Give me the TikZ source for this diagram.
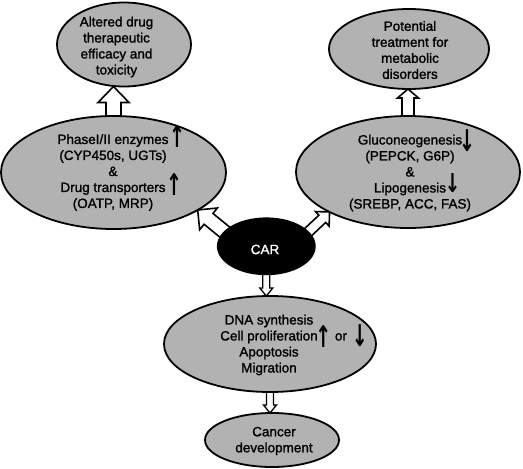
\documentclass[tikz,border=0pt]{standalone}
\usepackage{fontspec}
\usepackage{graphicx}
\setmainfont{Liberation Sans}[FakeBold=1.4]
\newfontfamily\arrowfont{DejaVu Sans}
\usetikzlibrary{shapes.geometric,calc,backgrounds}
\definecolor{ellgray}{gray}{0.7}
\newcommand{\upar}[1][-4pt]{\smash{\raisebox{#1}{\scalebox{0.95}[1.5]{\arrowfont\bfseries\fontsize{20}{20}\selectfont ↑}}}}
\newcommand{\downar}[1][-4pt]{\smash{\raisebox{#1}{\scalebox{0.95}[1.5]{\arrowfont\bfseries\fontsize{20}{20}\selectfont ↓}}}}
\newcommand{\downarsm}[1][0pt]{\smash{\raisebox{#1}{\scalebox{0.95}[1.3]{\arrowfont\bfseries\fontsize{20}{20}\selectfont ↓}}}}
% #2 start, #3 end, #4 half shaft, #5 half head, #6 head length
\newcommand{\hollowarrow}[6][]{%
  \coordinate (ha-h) at ($(#3)!#6!(#2)$);
  \draw[blockarrow,#1] ($(#2)!#4!90:(#3)$) -- ($(ha-h)!#4!-90:(#2)$) -- ($(ha-h)!#5!-90:(#2)$) -- (#3) -- ($(ha-h)!#5!90:(#2)$) -- ($(ha-h)!#4!90:(#2)$) -- ($(#2)!#4!-90:(#3)$) -- cycle;
}
\begin{document}
\begin{tikzpicture}[x=1pt,y=-1pt,
  ell/.style={ellipse, draw=black, line width=1.8pt, fill=ellgray, inner sep=0pt, outer sep=0pt},
  txt/.style={align=center, inner sep=0pt, font=\fontsize{13.5}{16}\selectfont},
  blockarrow/.style={draw=black, fill=white, line width=1.6pt, line join=miter}]
\useasboundingbox (0,0) rectangle (523,469);
\node[ell, minimum width=134pt, minimum height=84pt] (tl) at (124,44.5) {};
\node[ell, minimum width=160pt, minimum height=80pt] (tr) at (409,49) {};
\node[ell, minimum width=225pt, minimum height=113pt] (ml) at (113.5,172.5) {};
\node[ell, minimum width=224pt, minimum height=112pt] (mr) at (408,172) {};
\node[ell, fill=black, minimum width=97pt, minimum height=56pt] (car) at (266.3,246.3) {};
\node[ell, minimum width=212pt, minimum height=96pt] (bm) at (270,344) {};
\node[ell, minimum width=134pt, minimum height=54pt] (ca) at (272,440) {};

\node[txt] (tlt) at (116.5,47) {Altered drug\\therapeutic\\efficacy and\\toxicity};
\node[txt] (trt) at (410,50) {Potential\\treatment for\\metabolic\\disorders};
\node[txt] (mlt) at (113,172.5) {PhaseI/II enzymes\rlap{\kern0.5pt\upar}\\(CYP450s, UGTs)\\\&\\Drug transporters\rlap{\kern0.5pt\upar}\\(OATP, MRP)};
\node[txt] (mrt) at (410,173) {Gluconeogenesis\rlap{\kern-3pt\downar[-7.5pt]}\\(PEPCK, G6P)\\\&\\Lipogenesis\rlap{\kern-1.5pt\downarsm}\\(SREBP, ACC, FAS)};
\node[txt] (bmt) at (269,345) {DNA synthesis\\Cell proliferation\rlap{\kern-2.5pt\upar[-7pt]\ or\hspace{5pt}\downar[-6pt]}\\Apoptosis\\Migration};
\node[txt] (cat) at (274,441) {Cancer\\development};
\node[txt, text=white] (cart) at (265,249.5) {CAR};

\begin{scope}[on background layer]
  \coordinate (a1s) at ($(ml.north)+(0,4)$);
  \coordinate (a1e) at (ml.north |- tl.south);
  \hollowarrow{a1s}{a1e}{7.5pt}{15.5pt}{16pt}
  \coordinate (a2s) at ($(mr.north)+(0,4)$);
  \coordinate (a2e) at (mr.north |- tr.south);
  \hollowarrow{a2s}{a2e}{6pt}{10.5pt}{9pt}
  \coordinate (a3s) at ($(car.center)+(-34,-8)$);
  \coordinate (a3e) at (ml.336);
  \hollowarrow{a3s}{a3e}{7pt}{14pt}{14pt}
  \coordinate (a4s) at ($(car.center)+(30,-3)$);
  \coordinate (a4e) at (mr.207);
  \hollowarrow{a4s}{a4e}{5pt}{10pt}{10pt}
  \coordinate (a5s) at ($(car.south)+(0,-3)$);
  \coordinate (a5e) at (car.south |- bm.north);
  \hollowarrow[line width=1.3pt]{a5s}{a5e}{3.5pt}{6.5pt}{8pt}
  \coordinate (a6s) at ($(bm.south)+(0,-3)$);
  \coordinate (a6e) at (bm.south |- ca.north);
  \hollowarrow[line width=1.3pt]{a6s}{a6e}{3.5pt}{6.5pt}{8pt}
\end{scope}
\end{tikzpicture}
\end{document}
